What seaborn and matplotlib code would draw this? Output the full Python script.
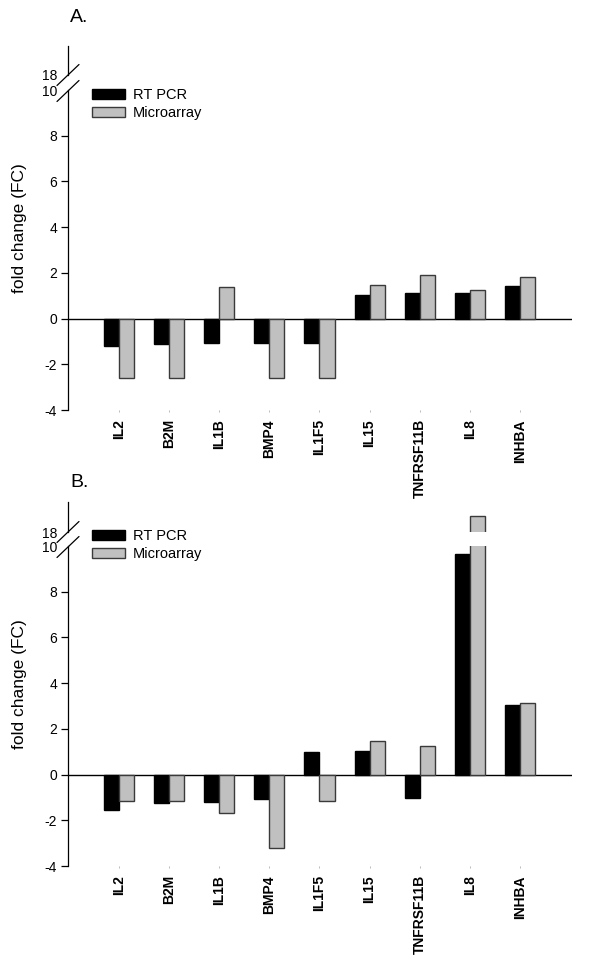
import numpy as np
import pandas as pd
import matplotlib
matplotlib.use("Agg")
import matplotlib.pyplot as plt
import seaborn as sns
from matplotlib.lines import Line2D

# ==========================================
# DATA
# ==========================================
genes = ["IL2", "B2M", "IL1B", "BMP4", "IL1F5", "IL15", "TNFRSF11B", "IL8", "INHBA"]
methods = ["RT PCR", "Microarray"]

rtpcr_a = [-1.18, -1.12, -1.08, -1.05, -1.05, 1.03, 1.11, 1.11, 1.43]
micro_a = [-2.58, -2.58, 1.38, -2.62, -2.58, 1.46, 1.89, 1.24, 1.81]

rtpcr_b = [-1.54, -1.25, -1.19, -1.06, 1.00, 1.03, -1.02, 9.65, 3.05]
micro_b = [-1.16, -1.16, -1.70, -3.20, -1.16, 1.47, 1.25, 18.7, 3.13]

main_ticks = [-4, -2, 0, 2, 4, 6, 8, 10]
panel_titles = ["A.", "B."]

# ==========================================
# STYLE
# ==========================================
sns.set_style("white")
plt.rcParams["font.family"] = ["Liberation Sans", "DejaVu Sans"]
plt.rcParams["text.color"] = "black"
plt.rcParams["xtick.color"] = "black"
plt.rcParams["ytick.color"] = "black"
plt.rcParams["axes.labelcolor"] = "black"

BAR_COLORS = ["#000000", "#c0c0c0"]
EDGE_COLORS = ["#000000", "#3a3a3a"]

W, H = 600, 963
fig = plt.figure(figsize=(W / 100, H / 100), dpi=100)


def px_box(left, top, right, bottom):
    """pixel box -> figure fraction [l, b, w, h]"""
    return [left / W, 1 - bottom / H, (right - left) / W, (bottom - top) / H]


def long_df(rt, mi):
    return pd.DataFrame({
        "gene": genes * 2,
        "method": [methods[0]] * len(genes) + [methods[1]] * len(genes),
        "fc": list(rt) + list(mi),
    })


def draw_bars(ax, df):
    sns.barplot(data=df, x="gene", y="fc", hue="method", hue_order=methods,
                palette=BAR_COLORS, width=0.6, errorbar=None, legend=False,
                saturation=1, ax=ax)
    for cont, ec in zip(ax.containers, EDGE_COLORS):
        for p in cont:
            p.set_edgecolor(ec)
            p.set_linewidth(1.0)
    ax.set_xlim(-1.02, 9.04)
    ax.set_xlabel("")
    ax.set_ylabel("")


def break_mark(x, y):
    dx, dy = 11, 10.5
    fig.add_artist(Line2D([(x - dx) / W, (x + dx) / W],
                          [1 - (y + dy) / H, 1 - (y - dy) / H],
                          transform=fig.transFigure, color="black", lw=0.9))


# pixel layout of each panel: axis top, y of 18, y of 10, y of -4, title y, legend anchor
layouts = [
    dict(top=46, y18=75, y10=90, ybot=410, title_y=18, leg_y=1.006),
    dict(top=502, y18=532, y10=546, ybot=866, title_y=482, leg_y=1.052),
]
datasets = [(rtpcr_a, micro_a), (rtpcr_b, micro_b)]
X0, X1 = 68, 572
PX_PER_UNIT = (layouts[0]["ybot"] - layouts[0]["y10"]) / 14.0

for lay, (rt, mi), title in zip(layouts, datasets, panel_titles):
    df = long_df(rt, mi)

    # main segment (-4 .. 10)
    ax = fig.add_axes(px_box(X0, lay["y10"], X1, lay["ybot"]))
    draw_bars(ax, df)
    ax.set_ylim(-4, 10)
    ax.axhline(0, color="black", lw=1.0, zorder=0.5)
    sns.despine(ax=ax, top=True, right=True, bottom=True)
    ax.spines["left"].set_linewidth(0.9)
    ax.spines["left"].set_color("black")
    ax.set_yticks(main_ticks)
    ax.set_yticklabels([str(t) for t in main_ticks])
    ax.tick_params(axis="y", direction="out", length=5, width=0.9, pad=3,
                   labelsize=10, left=True)
    ax.yaxis.get_major_ticks()[-1].tick1line.set_visible(False)
    ax.tick_params(axis="x", length=1.5, width=0.6, color="#b0b0b0", pad=5,
                   bottom=True)
    for lbl in ax.get_xticklabels():
        lbl.set_rotation(90)
        lbl.set_fontweight("bold")
        lbl.set_fontsize(10)
        lbl.set_va("top")
        lbl.set_ha("center")

    ax.legend(ax.containers, methods, loc="upper left",
              bbox_to_anchor=(0.047, lay["leg_y"]), frameon=False,
              fontsize=10.5, handlelength=2.26, handleheight=0.68,
              handletextpad=0.55, labelspacing=0.25, borderpad=0,
              borderaxespad=0)

    # upper segment (18 .. )
    seg_top = 18 + (lay["y18"] - lay["top"]) / PX_PER_UNIT
    axu = fig.add_axes(px_box(X0, lay["top"], X1, lay["y18"]))
    draw_bars(axu, df)
    axu.set_ylim(18, seg_top)
    sns.despine(ax=axu, top=True, right=True, bottom=True)
    axu.spines["left"].set_linewidth(0.9)
    axu.spines["left"].set_color("black")
    axu.set_yticks([18])
    axu.set_yticklabels(["18"])
    axu.tick_params(axis="y", length=0, pad=8, labelsize=10)
    axu.set_xticks([])
    axu.patch.set_alpha(0)

    break_mark(X0, lay["y18"])
    break_mark(X0, lay["y10"] + 1)

    fig.text(70 / W, 1 - lay["title_y"] / H, title, fontsize=14,
             ha="left", va="center")
    fig.text(20 / W, 1 - (lay["top"] + lay["ybot"]) / 2 / H,
             "fold change (FC)", rotation=90, fontsize=12.5,
             ha="center", va="center")

fig.savefig("out.png", dpi=100)
